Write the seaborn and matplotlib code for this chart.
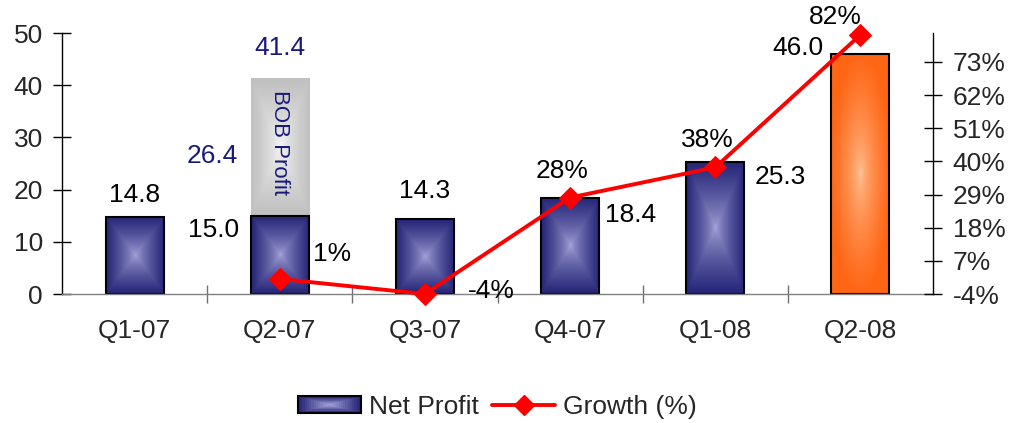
import numpy as np
import pandas as pd
import seaborn as sns
import matplotlib.pyplot as plt
from matplotlib.patches import Rectangle
from matplotlib.lines import Line2D
from matplotlib.legend_handler import HandlerBase

# data
quarters = ['Q1-07', 'Q2-07', 'Q3-07', 'Q4-07', 'Q1-08', 'Q2-08']
net_profit = [14.8, 15.0, 14.3, 18.4, 25.3, 46.0]
bob_total = [0, 41.4, 0, 0, 0, 0]          # Q2-07 including BOB profit
growth_quarters = ['Q2-07', 'Q3-07', 'Q4-07', 'Q1-08', 'Q2-08']
growth = [1, -4, 28, 38, 82]
growth_ticks = [-4, 7, 18, 29, 40, 51, 62, 73]

df = pd.DataFrame({'Quarter': quarters, 'Net Profit': net_profit, 'Total': bob_total})

sns.set_style('white')
plt.rcParams['font.family'] = ['Liberation Sans', 'DejaVu Sans']

FS = 19
NAVY = '#1a1a7a'
BLUE_EDGE = np.array([0.14, 0.14, 0.47])
BLUE_MID = np.array([0.66, 0.66, 0.86])
ORANGE_EDGE = np.array([1.0, 0.40, 0.08])
ORANGE_MID = np.array([1.0, 0.79, 0.63])
GREY_EDGE = np.array([0.75, 0.75, 0.75])
GREY_MID = np.array([0.97, 0.97, 0.97])


def fill_gradient(ax, patch, edge, mid, y0, y1, shape='box'):
    U, V = np.meshgrid(np.linspace(-1, 1, 200), np.linspace(-1, 1, 400))
    if shape == 'box':
        t = np.maximum(np.abs(U), np.abs(V)) ** 0.7
    else:
        t = np.clip(np.sqrt(U ** 2 + V ** 2), 0, 1) ** 0.6
    img = mid + (edge - mid) * t[..., None]
    x0 = patch.get_x()
    im = ax.imshow(img, extent=(x0, x0 + patch.get_width(), y0, y1),
                   aspect='auto', origin='lower', zorder=1.5, interpolation='bilinear')
    im.set_clip_path(patch)


class GradientHandler(HandlerBase):
    def create_artists(self, legend, orig_handle, xdescent, ydescent, width, height, fontsize, trans):
        arts = []
        steps = 14
        for k in range(steps):
            f = k / steps
            dx, dy = width * f / 2, height * f / 2
            c = BLUE_EDGE + (BLUE_MID - BLUE_EDGE) * f
            arts.append(Rectangle((-xdescent + dx, -ydescent + dy), width - 2 * dx, height - 2 * dy,
                                  facecolor=c, edgecolor='none', transform=trans))
        arts.append(Rectangle((-xdescent, -ydescent), width, height, facecolor='none',
                              edgecolor='black', lw=1.5, transform=trans))
        return arts


fig = plt.figure(figsize=(10.13, 4.23), dpi=100)
ax = fig.add_axes([62 / 1013, 1 - 294 / 423, 871 / 1013, 261 / 423])

# grey BOB bar first, net profit on top
sns.barplot(data=df, x='Quarter', y='Total', color='#c0c0c0', width=0.4, ax=ax)
n_grey = len(ax.patches)
sns.barplot(data=df, x='Quarter', y='Net Profit', color='#3a3a8a', width=0.4, ax=ax)

grey_bars = ax.patches[:n_grey]
profit_bars = ax.patches[n_grey:]
for i, p in enumerate(grey_bars):
    p.set_edgecolor('none')
    if bob_total[i] > 0:
        p.set_facecolor('none')
        fill_gradient(ax, p, GREY_EDGE, GREY_MID, net_profit[i], bob_total[i])
    else:
        p.set_visible(False)
for i, p in enumerate(profit_bars):
    p.set_facecolor('none')
    p.set_edgecolor('black')
    p.set_linewidth(1.5)
    p.set_zorder(2)
    if i == len(profit_bars) - 1:
        fill_gradient(ax, p, ORANGE_EDGE, ORANGE_MID, 0, net_profit[i], shape='round')
    else:
        fill_gradient(ax, p, BLUE_EDGE, BLUE_MID, 0, net_profit[i])

ax.set_xlim(-0.5, 5.5)
ax.set_ylim(0, 50)
ax.set_yticks(range(0, 51, 10))
ax.set_xticks(range(len(quarters)))
ax.set_xticklabels(quarters)
ax.set_xticks(np.arange(0.5, 5.0, 1), minor=True)
ax.set_xlabel('')
ax.set_ylabel('')
ax.tick_params(axis='y', direction='inout', length=13.5, width=1, labelsize=FS, pad=7,
               left=True, color='black')
ax.tick_params(axis='x', which='major', length=0, labelsize=FS, pad=18)
ax.tick_params(axis='x', which='minor', direction='inout', length=13, width=1,
               bottom=True, color='#707070')
for s in ['top', 'right']:
    ax.spines[s].set_visible(False)
ax.spines['left'].set_color('black')
ax.spines['bottom'].set_color('#808080')
ax.spines['left'].set_linewidth(1)
ax.spines['bottom'].set_linewidth(1)

# growth line on secondary axis
ax2 = ax.twinx()
gx = [quarters.index(q) for q in growth_quarters]
sns.lineplot(x=gx, y=growth, ax=ax2, color='red', lw=2.8, marker='D', markersize=11,
             markeredgecolor='red', zorder=5, clip_on=False)
ax2.set_ylim(-4, 82.6)
ax2.set_yticks(growth_ticks)
ax2.set_yticklabels([f'{t}%' for t in growth_ticks])
ax2.tick_params(axis='y', direction='inout', length=12.5, width=1, labelsize=FS, pad=8,
                right=True, color='black')
for s in ['top', 'left', 'bottom']:
    ax2.spines[s].set_visible(False)
ax2.spines['right'].set_color('black')
ax2.spines['right'].set_linewidth(1)
ax2.set_xlim(-0.5, 5.5)

PX = 0.72  # points per pixel


def lab(a, x, y, txt, dx, dy, ha='center', color='black'):
    a.annotate(txt, xy=(x, y), xytext=(dx * PX, dy * PX), textcoords='offset points',
               ha=ha, va='center', fontsize=FS, color=color, zorder=6)


# net profit labels
lab(ax, 0, net_profit[0], f'{net_profit[0]:.1f}', 0, 22)
lab(ax, 1, net_profit[1], f'{net_profit[1]:.1f}', -41, -14, ha='right')
lab(ax, 1, 26.4, '26.4', -42, 0, ha='right', color=NAVY)
lab(ax, 1, bob_total[1], f'{bob_total[1]:.1f}', 0, 30, color=NAVY)
lab(ax, 2, net_profit[2], f'{net_profit[2]:.1f}', 0, 28)
lab(ax, 3, net_profit[3], f'{net_profit[3]:.1f}', 35, -17, ha='left')
lab(ax, 4, net_profit[4], f'{net_profit[4]:.1f}', 39, -15, ha='left')
lab(ax, 5, net_profit[5], f'{net_profit[5]:.1f}', -37, 6, ha='right')
ax.text(1, (net_profit[1] + bob_total[1]) / 2 + 0.8, 'BOB Profit', rotation=-90, ha='center',
        va='center', fontsize=16, color=NAVY, zorder=6)

# growth labels
offs = [(33, 25, 'left'), (43, 3, 'left'), (-8, 27, 'center'), (-8, 27, 'center'), (-25, 18, 'center')]
for (x, g), (dx, dy, ha) in zip(zip(gx, growth), offs):
    lab(ax2, x, g, f'{g}%', dx, dy, ha=ha)

handles = [Rectangle((0, 0), 1, 1), Line2D([], [], color='red', lw=2.8, marker='D', markersize=10)]
ax.legend(handles, ['Net Profit', 'Growth (%)'], handler_map={Rectangle: GradientHandler()},
          loc='center', bbox_to_anchor=(0.5, -0.433), ncol=2, frameon=False, fontsize=FS,
          handlelength=2.4, handleheight=0.6, handletextpad=0.3, columnspacing=0.5)

fig.savefig('out.png', dpi=100)
